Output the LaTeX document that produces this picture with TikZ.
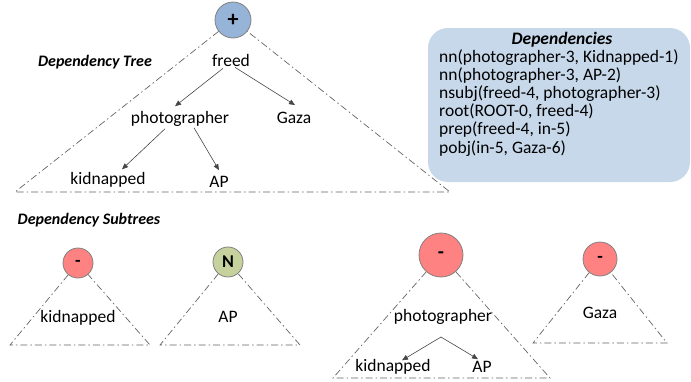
\documentclass[tikz,border=0pt]{standalone}
\usepackage{fontspec}
\setmainfont{Carlito}
\usetikzlibrary{arrows.meta,calc}
\definecolor{boxblue}{RGB}{198,216,234}
\definecolor{plusblue}{RGB}{150,180,215}
\definecolor{negred}{RGB}{255,130,130}
\definecolor{neugreen}{RGB}{198,210,158}
\definecolor{ringgray}{RGB}{128,128,128}
\definecolor{dashgray}{RGB}{100,100,100}
\definecolor{arrgray}{RGB}{70,70,70}
\begin{document}
\begin{tikzpicture}[x=1pt,y=-1pt,
  lbl/.style={font=\fontsize{17.5}{18}\selectfont, inner sep=2pt},
  deptext/.style={font=\fontsize{17.5}{18}\selectfont, inner sep=0pt, anchor=base west},
  head/.style={font=\fontsize{16}{18}\selectfont\bfseries\itshape, inner sep=1pt},
  ball/.style={circle, draw=ringgray, line width=0.8pt, inner sep=0pt, font=\bfseries},
  dd/.style={draw=dashgray, line width=0.7pt, dash pattern=on 7pt off 3pt on 1.5pt off 3pt},
  arr/.style={draw=arrgray, line width=0.6pt, -{Triangle[length=6pt,width=5pt]}}
]
\useasboundingbox (0,0) rectangle (691,381);

% ---------- Dependency tree ----------
\node[ball, fill=plusblue, minimum size=36pt, font=\fontsize{22}{22}\selectfont\bfseries] (plus) at (233,20) {+};
\node[head] (treehead) at (95,62) {Dependency Tree};
\node[lbl] (freed) at (231,60) {freed};
\node[lbl] (photo) at (180,119) {photographer};
\node[lbl] (gaza) at (294,118) {Gaza};
\node[lbl] (kid) at (108,180) {kidnapped};
\node[lbl] (ap) at (219,182) {AP};
\coordinate (tl) at (15,192);
\coordinate (tr) at (450,192);
\draw[dd] (plus) -- (tl) -- (tr) -- (plus);
\draw[arr] ($(freed.south)+(-8,0)$) -- ($(photo.north)+(-5,-3)$);
\draw[arr] ($(freed.south)+(4,-1)$) -- ($(gaza.north)+(1,-5)$);
\draw[arr] ($(photo.south)+(-15,0)$) -- ($(kid.north)+(14,-1)$);
\draw[arr] ($(photo.south)+(14,-1)$) -- ($(ap.north)+(0,-4)$);

% ---------- Dependencies box ----------
\node[fill=boxblue, rounded corners=20pt, minimum width=262pt, minimum height=154pt, inner sep=0pt] (deps) at (559,105) {};
\node[font=\fontsize{17.5}{18}\selectfont\bfseries\itshape, inner sep=0pt, anchor=base] (depshead) at (562,44) {Dependencies};
\node[deptext] (d1) at (439,62) {nn(photographer-3, Kidnapped-1)};
\node[deptext] (d2) at (439,80.2) {nn(photographer-3, AP-2)};
\node[deptext] (d3) at (439,98.4) {nsubj(freed-4, photographer-3)};
\node[deptext] (d4) at (439,116.6) {root(ROOT-0, freed-4)};
\node[deptext] (d5) at (439,134.8) {prep(freed-4, in-5)};
\node[deptext] (d6) at (439,153) {pobj(in-5, Gaza-6)};

% ---------- Dependency subtrees ----------
\node[head] (subhead) at (89,220) {Dependency Subtrees};

% subtree 1
\node[ball, fill=negred, minimum size=30pt, font=\fontsize{18}{18}\selectfont\bfseries] (s1) at (78,263) {-};
\node[lbl] (s1kid) at (78,318) {kidnapped};
\coordinate (s1l) at (10,345);
\coordinate (s1r) at (150,345);
\draw[dd] (s1) -- (s1l) -- (s1r) -- (s1);

% subtree 2
\node[ball, fill=neugreen, minimum size=30pt, font=\fontsize{18}{18}\selectfont\bfseries] (s2) at (228,262) {N};
\node[lbl] (s2ap) at (228,317) {AP};
\coordinate (s2l) at (160,345);
\coordinate (s2r) at (300,345);
\draw[dd] (s2) -- (s2l) -- (s2r) -- (s2);

% subtree 3
\node[ball, fill=negred, minimum size=44pt, font=\fontsize{20}{20}\selectfont\bfseries] (s3) at (441,255) {-};
\node[lbl] (s3photo) at (443,317) {photographer};
\node[lbl] (s3kid) at (393,367) {kidnapped};
\node[lbl] (s3ap) at (482,367) {AP};
\coordinate (s3fork) at (441,337);
\coordinate (s3l) at (333,378);
\coordinate (s3r) at (550,378);
\draw[dd] (s3) -- (s3l) -- (s3r) -- (s3);
\draw[arr] (s3fork) -- ($(s3kid.north)+(9,3)$);
\draw[arr] (s3fork) -- ($(s3ap.north)+(-4,0)$);

% subtree 4
\node[ball, fill=negred, minimum size=34pt, font=\fontsize{18}{18}\selectfont\bfseries] (s4) at (600,259) {-};
\node[lbl] (s4gaza) at (600,313) {Gaza};
\coordinate (s4l) at (533,343);
\coordinate (s4r) at (667,343);
\draw[dd] (s4) -- (s4l) -- (s4r) -- (s4);
\end{tikzpicture}
\end{document}
